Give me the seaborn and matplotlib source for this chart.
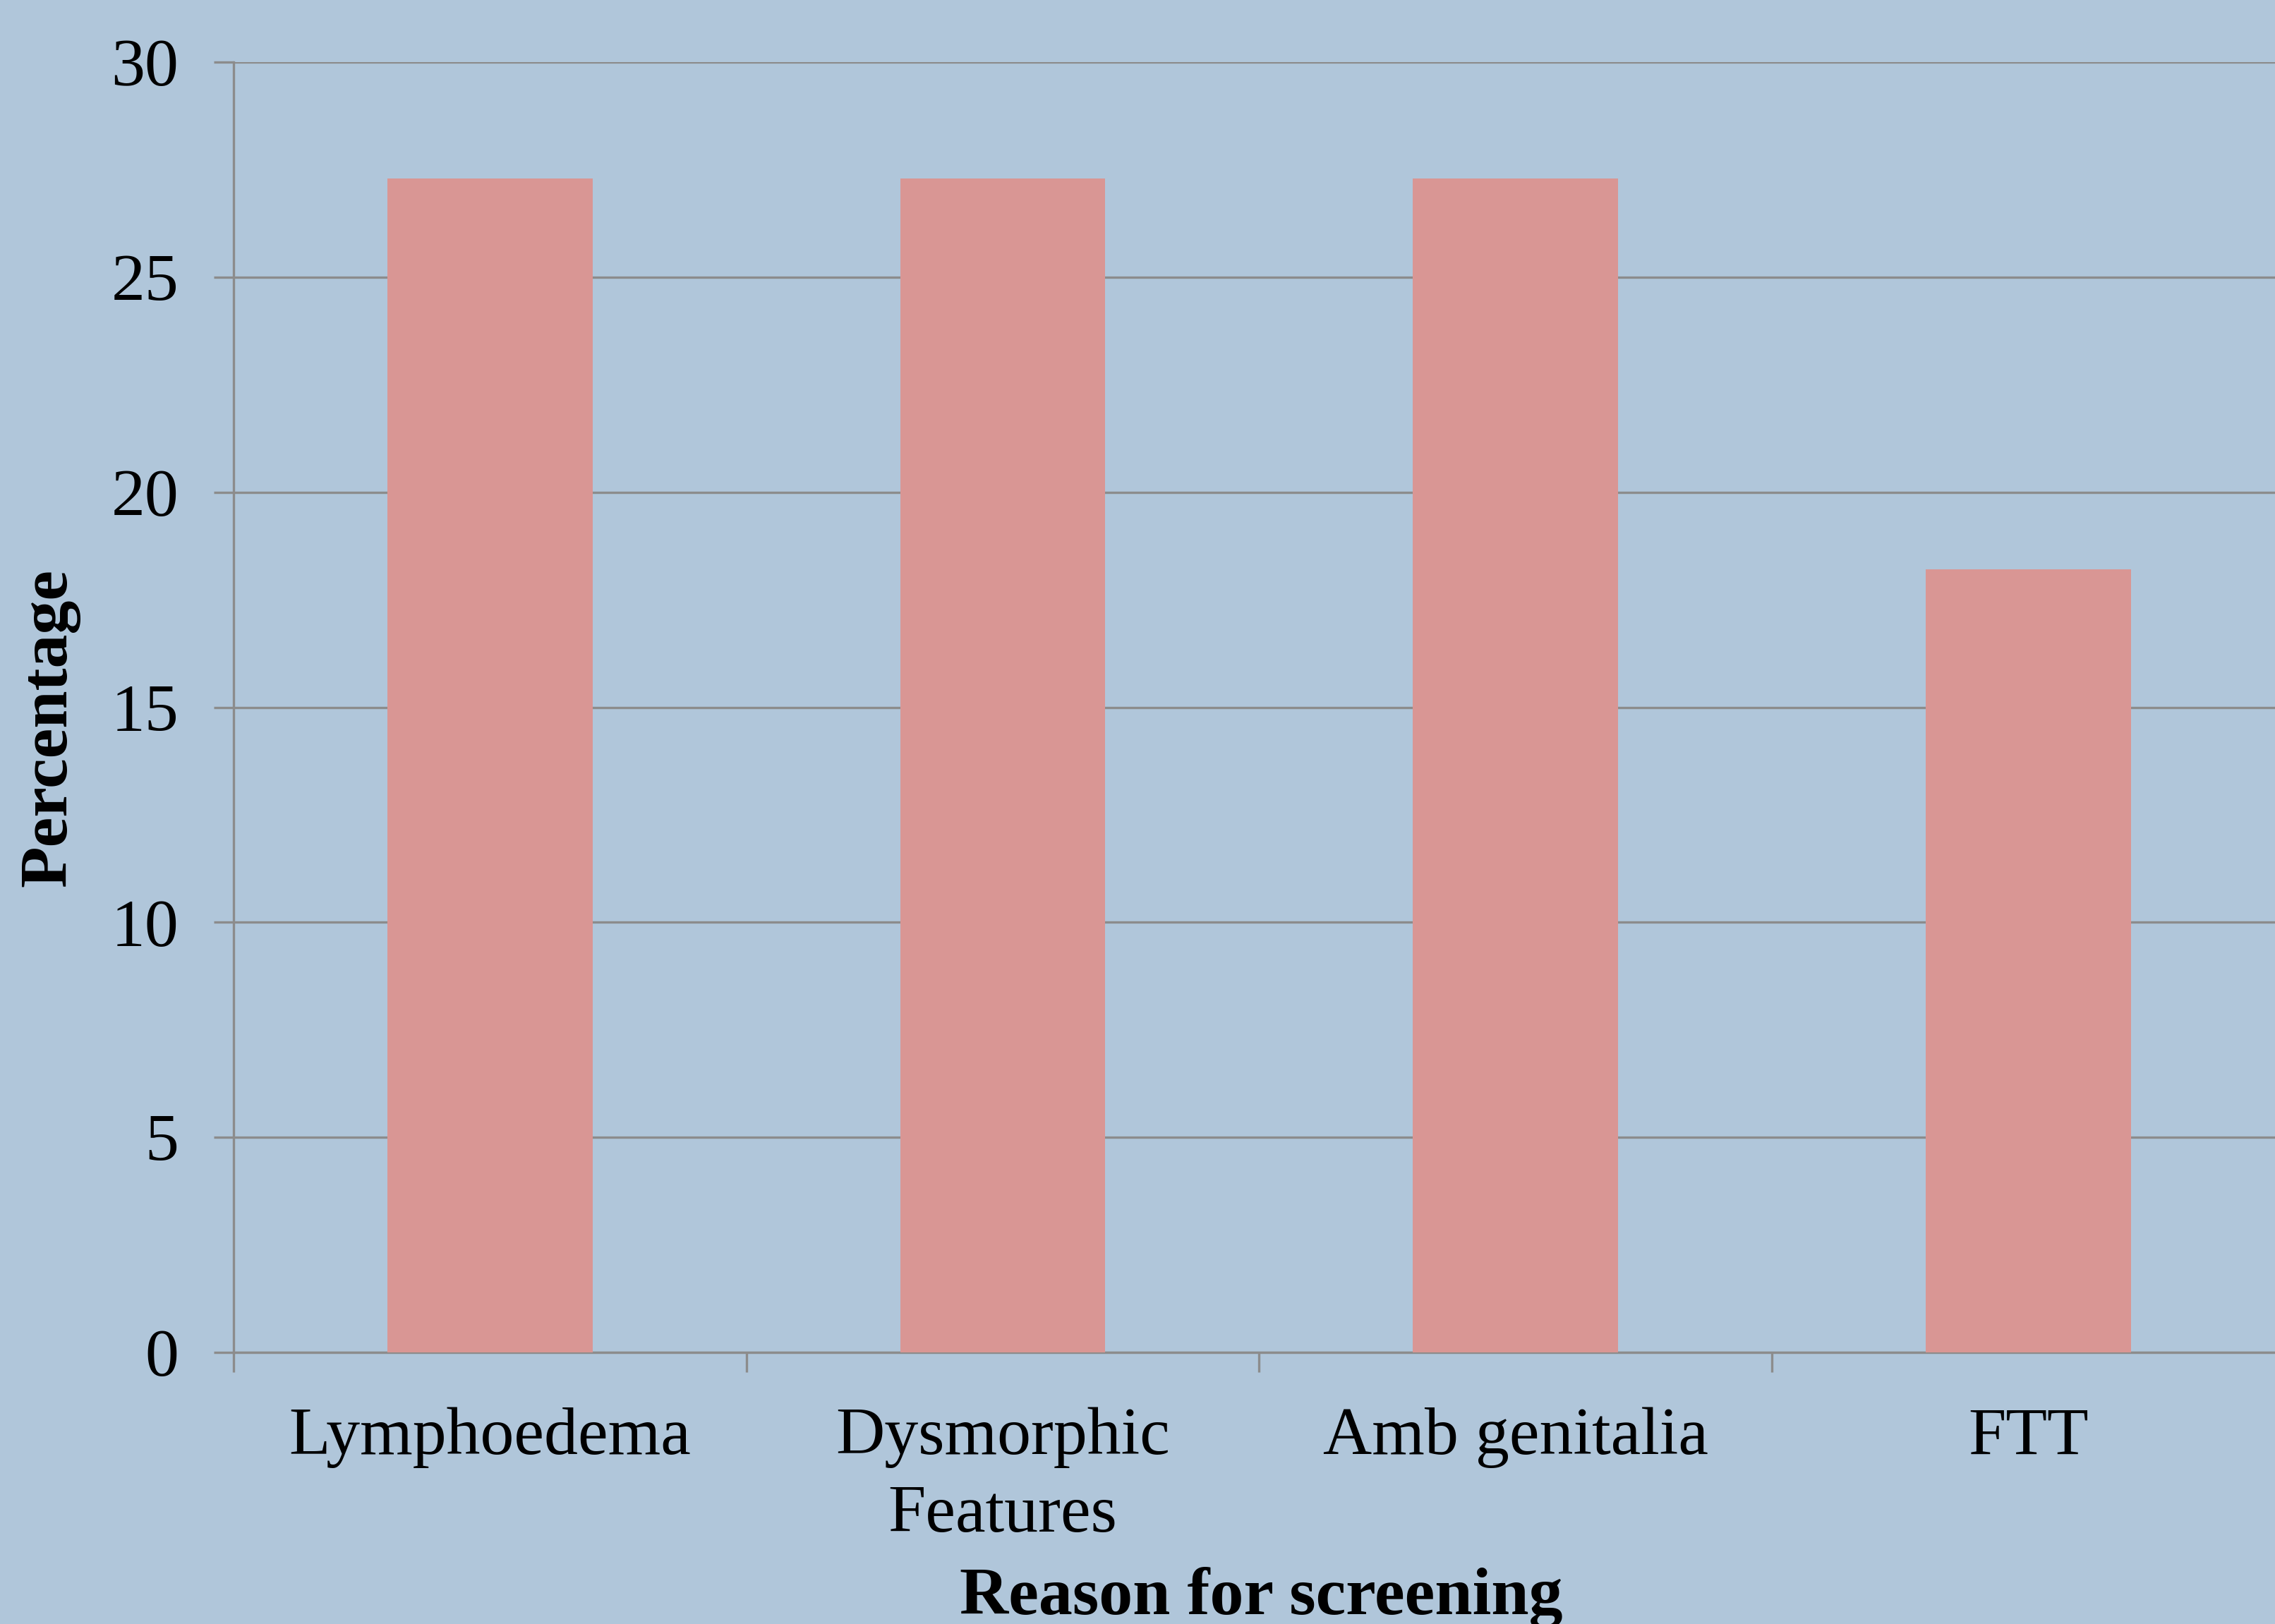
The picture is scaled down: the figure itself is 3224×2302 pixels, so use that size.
import matplotlib
matplotlib.use("Agg")
import matplotlib.pyplot as plt
import seaborn as sns
import pandas as pd

# values
reasons = ["Lymphoedema", "Dysmorphic\nFeatures", "Amb genitalia", "FTT"]
percentage = [27.3, 27.3, 27.3, 18.2]

bg = "#B0C6DA"
bar_color = "#D99694"
line_gray = "#8C8C8C"

sns.set_style("white")
plt.rcParams["font.family"] = ["Liberation Serif", "DejaVu Serif"]
plt.rcParams["text.color"] = "black"
plt.rcParams["axes.labelcolor"] = "black"
plt.rcParams["xtick.labelcolor"] = "black"
plt.rcParams["ytick.labelcolor"] = "black"

df = pd.DataFrame({"reason": reasons, "pct": percentage})

fig = plt.figure(figsize=(16.12, 11.51), dpi=200, facecolor=bg)
ax = fig.add_axes([0.1027, 0.1672, 0.9016, 0.7946], facecolor=bg)

sns.barplot(data=df, x="reason", y="pct", color=bar_color, width=0.4,
            saturation=1, linewidth=0, ax=ax, zorder=3)

ax.set_ylim(0, 30)
ax.set_xlim(-0.5, len(reasons) - 0.5)
ax.set_yticks(range(0, 31, 5))
ax.grid(axis="y", color=line_gray, linewidth=1.2, zorder=0)

# tick marks at category boundaries, labels at centres
ax.set_xticks([i - 0.5 for i in range(len(reasons) + 1)])
ax.set_xticklabels([])
ax.set_xticks(range(len(reasons)), minor=True)
ax.set_xticklabels(reasons, minor=True, linespacing=1.35)
ax.tick_params(axis="x", which="major", length=10, width=1.2, color=line_gray,
               direction="out", bottom=True)
ax.tick_params(axis="x", which="minor", length=0, pad=28, labelsize=34.5)
ax.tick_params(axis="y", length=10, width=1.2, color=line_gray, direction="out",
               left=True, pad=18, labelsize=34.5)

for side in ["top", "right"]:
    ax.spines[side].set_visible(False)
for side in ["left", "bottom"]:
    ax.spines[side].set_color(line_gray)
    ax.spines[side].set_linewidth(1.2)

ax.set_ylabel("Percentage", fontsize=34.5, fontweight="bold")
ax.yaxis.set_label_coords(-0.075, 0.484)
ax.set_xlabel("Reason for screening", fontsize=34.5, fontweight="bold", va="top")
ax.xaxis.set_label_coords(0.501, -0.166)

fig.savefig("out.png", dpi=200, facecolor=bg)
